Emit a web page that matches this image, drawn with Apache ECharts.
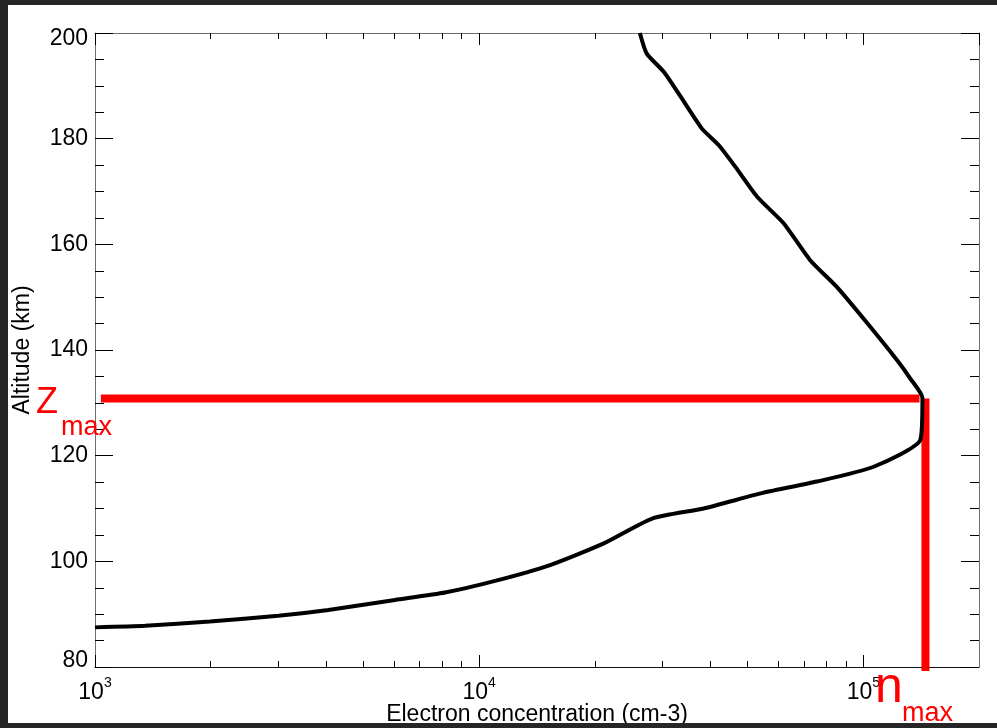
<!DOCTYPE html>
<html>
<head>
<meta charset="utf-8">
<title>Electron concentration profile</title>
<script src="https://cdn.jsdelivr.net/npm/echarts@6/dist/echarts.min.js"></script>
<style>
  html, body { margin: 0; padding: 0; background: #262626; }
  #frame { position: absolute; left: 8px; top: 5px; width: 989px; height: 718px; background: #fff; overflow: hidden; }
  #chart { position: absolute; left: -8px; top: -5px; width: 997px; height: 728px; }
</style>
</head>
<body>
<div id="frame"><div id="chart"></div></div>
<script>
// profile: altitude (km) and electron concentration (cm-3)
var altitude = [87.5, 87.8, 88.6, 89.7, 90.8, 92.7, 94.1, 96.3, 99.3, 103.4, 108.1, 110.0, 113.0, 115.1,
  117.9, 123.0, 130.9, 134.6, 138.1, 144.4, 151.9, 157.0, 164.0, 169.0, 174.7, 178.8, 181.9, 188.6,
  192.7, 196.1, 200.0];
var density = [1000, 1350, 1990, 3000, 4050, 6040, 8150, 11000, 15300, 21100, 28200, 38400, 55000, 75700,
  106400, 140700, 142500, 132500, 122300, 104200, 85400, 72700, 62000, 52900, 46400, 42000, 38000, 33000,
  30200, 27300, 26200];

// peak markers (zmax / nmax)
var zmaxAlt = 130.8;
var zmaxLineN = [1036, 140000];
var nmaxN = 145100;
var nmaxLineAlt = [130.8, 79.25];

// axis ticks
var yTicks = [80, 100, 120, 140, 160, 180, 200];
var xDecades = [3, 4, 5];
var minorMultipliers = [2, 3, 4, 5, 6, 7, 8, 9];

var FONT = 'Liberation Sans, Arial, Helvetica, sans-serif';
var X_MIN = 1000, X_MAX = 200000;

var minorLog = [];
xDecades.forEach(function (d) {
  minorMultipliers.forEach(function (m) {
    var v = d + Math.log10(m);
    if (v < Math.log10(X_MAX)) minorLog.push(v);
  });
});

var chart = echarts.init(document.getElementById('chart'));

function logAxis(pos, withLabels) {
  return {
    type: 'log',
    logBase: 10,
    position: pos,
    min: X_MIN,
    max: X_MAX,
    axisLine: { show: true, onZero: false, lineStyle: { color: pos === 'bottom' ? '#111' : '#6e6e6e', width: 1 } },
    axisTick: { show: true, inside: true, length: 12, lineStyle: { color: '#000' } },
    splitLine: { show: false },
    minorTick: { show: false },
    name: withLabels ? 'Electron concentration (cm-3)' : '',
    nameLocation: 'middle',
    nameGap: 36,
    nameMoveOverlap: false,
    nameTextStyle: { fontFamily: FONT, fontSize: 23, color: '#000' },
    axisLabel: {
      show: withLabels,
      margin: 9,
      showMaxLabel: false,
      formatter: function (v) {
        var e = Math.log10(v);
        if (Math.abs(e - Math.round(e)) > 1e-6) return '';
        return '{b|10}{s|' + Math.round(e) + '}';
      },
      rich: {
        b: { fontFamily: FONT, fontSize: 23, color: '#000', lineHeight: 28, verticalAlign: 'bottom' },
        s: { fontFamily: FONT, fontSize: 14, color: '#000', lineHeight: 28, verticalAlign: 'top' }
      }
    }
  };
}

// extra axes in log10 units, only to carry the 2..9 minor ticks
function minorAxis(pos) {
  return {
    type: 'value',
    position: pos,
    min: Math.log10(X_MIN),
    max: Math.log10(X_MAX),
    axisLine: { show: false },
    axisLabel: { show: false },
    splitLine: { show: false },
    axisTick: { show: true, inside: true, length: 6, customValues: minorLog, lineStyle: { color: '#000' } }
  };
}

function altAxis(pos, withLabels) {
  return {
    type: 'value',
    position: pos,
    min: yTicks[0],
    max: yTicks[yTicks.length - 1],
    interval: 20,
    axisLine: { show: true, onZero: false, lineStyle: { color: '#6e6e6e', width: 1 } },
    axisTick: { show: true, inside: true, length: 18, lineStyle: { color: '#000' } },
    minorTick: { show: true, splitNumber: 4, length: 9, lineStyle: { color: '#000' } },
    splitLine: { show: false },
    name: withLabels ? 'Altitude (km)' : '',
    nameLocation: 'middle',
    nameGap: 61,
    nameMoveOverlap: false,
    nameTextStyle: { fontFamily: FONT, fontSize: 23, color: '#000' },
    axisLabel: {
      show: withLabels,
      margin: 7,
      fontFamily: FONT,
      fontSize: 23,
      color: '#000',
      formatter: function (v) {
        if (v === yTicks[yTicks.length - 1]) return '{hi|' + v + '}';
        if (v === yTicks[0]) return '{lo|' + v + '}';
        return String(v);
      },
      rich: {
        hi: { fontFamily: FONT, fontSize: 23, color: '#000', padding: [11, 0, 0, 0] },
        lo: { fontFamily: FONT, fontSize: 23, color: '#000', padding: [0, 0, 12, 0] }
      }
    }
  };
}

var option = {
  backgroundColor: '#fff',
  animation: false,
  grid: { left: 95, top: 33, right: 18, bottom: 61, containLabel: false, outerBoundsMode: 'none' },
  xAxis: [logAxis('bottom', true), logAxis('top', false), minorAxis('bottom'), minorAxis('top')],
  yAxis: [altAxis('left', true), altAxis('right', false)],
  series: [
    {
      name: 'zmax',
      type: 'line',
      xAxisIndex: 0,
      yAxisIndex: 0,
      data: zmaxLineN.map(function (n) { return [n, zmaxAlt]; }),
      symbol: 'none',
      clip: false,
      z: 2,
      lineStyle: { color: '#ff0000', width: 8 }
    },
    {
      name: 'nmax',
      type: 'line',
      xAxisIndex: 0,
      yAxisIndex: 0,
      data: nmaxLineAlt.map(function (a) { return [nmaxN, a]; }),
      symbol: 'none',
      clip: false,
      z: 2,
      lineStyle: { color: '#ff0000', width: 8 }
    },
    {
      name: 'profile',
      type: 'line',
      xAxisIndex: 0,
      yAxisIndex: 0,
      data: altitude.map(function (a, i) { return [density[i], a]; }),
      symbol: 'none',
      smooth: 0.2,
      z: 3,
      lineStyle: { color: '#000', width: 4 }
    }
  ],
  graphic: [
    { type: 'text', z: 100, style: { text: 'Z', x: 36, y: 421, verticalAlign: 'bottom', fill: '#ff0000', font: 'normal 36px ' + FONT } },
    { type: 'text', z: 100, style: { text: 'max', x: 61, y: 441, verticalAlign: 'bottom', fill: '#ff0000', font: 'normal 27px ' + FONT } },
    { type: 'text', z: 100, style: { text: 'n', x: 875, y: 713, verticalAlign: 'bottom', fill: '#ff0000', font: 'normal 50px ' + FONT } },
    { type: 'text', z: 100, style: { text: 'max', x: 902, y: 727, verticalAlign: 'bottom', fill: '#ff0000', font: 'normal 27px ' + FONT } }
  ]
};

chart.setOption(option);

window.addEventListener('resize', function () {
  chart.resize();
});
</script>
</body>
</html>
